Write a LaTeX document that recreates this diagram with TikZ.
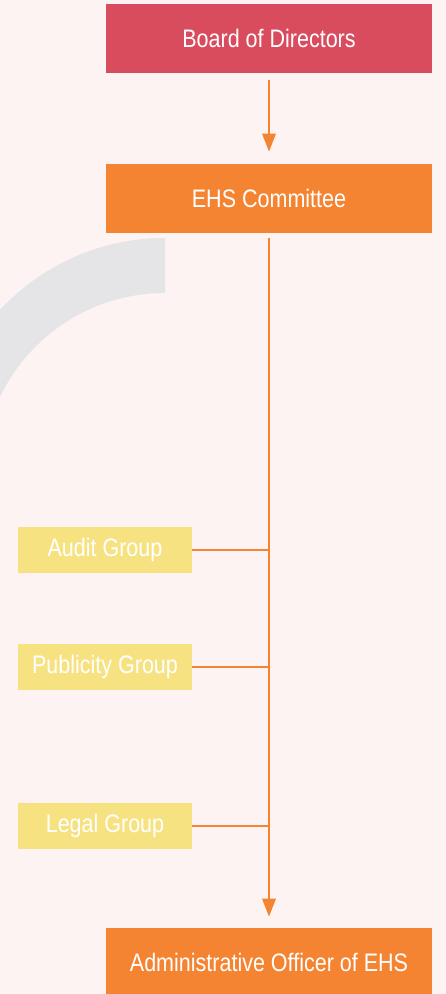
\documentclass[tikz,border=0pt]{standalone}
\usepackage{xcolor}
\usepackage{fontspec}
\setmainfont{Liberation Sans}[FakeStretch=0.85]
\usepackage{tikz}
\usetikzlibrary{
  positioning, arrows.meta
}
\definecolor{ehsPink}{HTML}{FDF3F3}
\definecolor{ehsRed}{HTML}{D84C5E}
\definecolor{ehsOrange}{HTML}{F48431}
\definecolor{ehsYellow}{HTML}{F7E282}
\definecolor{ehsGray}{HTML}{E5E4E6}

\begin{document}
\begin{tikzpicture}[
  x=0.025cm, y=-0.025cm,
  every node/.style={font=\fontsize{18}{22}\selectfont, text=white},
  level/.style={
    rectangle, fill=#1,
    minimum width=8.15cm, minimum height=1.725cm, inner sep=0pt
  },
  group/.style={
    rectangle, fill=ehsYellow,
    minimum width=4.35cm, minimum height=1.15cm, inner sep=0pt
  },
  link/.style={draw=ehsOrange, line width=1.9pt},
  tip/.style={-{Triangle[width=0.33cm, length=0.45cm]}},
]

% === BACKGROUND ===
\useasboundingbox (0,0) rectangle (446,994);
\fill[ehsPink] (0,0) rectangle (446,994);

% Gray arc
\begin{scope}
  \clip (0,0) rectangle (446,994);
  \fill[ehsGray] (165,238) arc[start angle=90, end angle=180, radius=5.625cm]
    -- (-18,476) arc[start angle=180, end angle=90, radius=4.575cm] -- cycle;
\end{scope}

% === LEVELS ===
\node[level=ehsRed] (b-board) at (269,38.5) {Board of Directors};
\node[level=ehsOrange] (b-ehs) at (269,198.5) {EHS Committee};
\node[level=ehsOrange] (b-admin) at (269,962.5) {Administrative Officer of EHS};

% === GROUPS ===
\node[group] (g-audit) at (105,550) {Audit Group};
\node[group] (g-publicity) at (105,667) {Publicity Group};
\node[group] (g-legal) at (105,826) {Legal Group};

% Main line
\draw[link, tip, shorten <=0.18cm, shorten >=0.3cm] (b-board) -- (b-ehs);
\draw[link, tip, shorten <=0.125cm, shorten >=0.275cm] (b-ehs) -- (b-admin);

% Groups to main line
\foreach \g in {g-audit, g-publicity, g-legal} {
  \draw[link] (\g) -- (\g -| b-ehs);
}

\end{tikzpicture}
\end{document}
